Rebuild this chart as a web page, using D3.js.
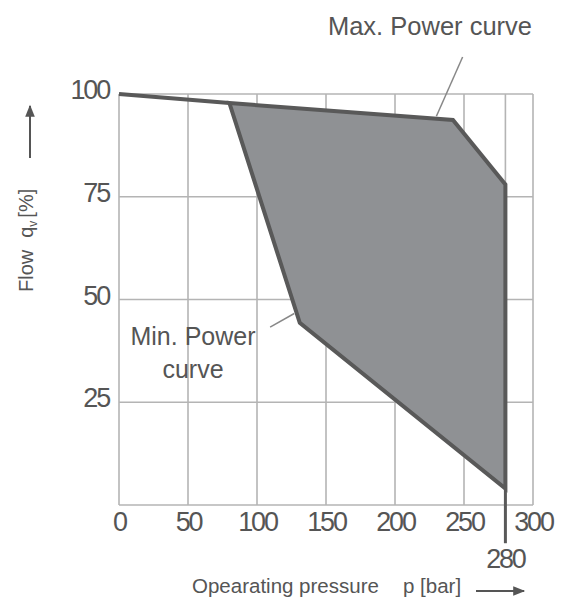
<!DOCTYPE html>
<html>
<head>
<meta charset="utf-8">
<script src="https://cdn.jsdelivr.net/npm/d3@7"></script>
<style>
  body { margin:0; background:#fff; }
  text { font-family: "Liberation Sans", Arial, sans-serif; fill:#555; }
  .tick text { font-size:27px; letter-spacing:-2.2px; }
</style>
</head>
<body>
<svg id="chart" width="562" height="612"></svg>
<script>
// pressure [bar] / flow [%]
const xTicks = [0, 50, 100, 150, 200, 250, 300];
const yTicks = [25, 50, 75, 100];
const xGrid = [0, 50, 100, 150, 200, 250, 280, 300];
const yGrid = [0, 25, 50, 75, 100];

// outline of the operating area
const maxCurve = [[80, 97.8], [242, 93.7], [280, 78]];
const minCurve = [[80, 97.8], [131, 44.3], [280, 4]];
const startLine = [[0, 100], [80, 97.8]];

const maxLeader = [[249, 109], [230, 94.6]];
const minLeader = [[109.5, 43.3], [127, 46.6]];

const svg = d3.select("#chart");
const plot = {left:119, right:533, top:94, bottom:505};

const xScale = d3.scaleLinear().domain([0, 300]).range([plot.left, plot.right]);
const yScale = d3.scaleLinear().domain([0, 100]).range([plot.bottom, plot.top]);

const line = d3.line()
    .x(d => xScale(d[0]))
    .y(d => yScale(d[1]));

// grid
svg.append("g").selectAll("line").data(xGrid).enter().append("line")
    .attr("x1", d => xScale(d)).attr("x2", d => xScale(d))
    .attr("y1", yScale(0)).attr("y2", yScale(100))
    .attr("stroke", "#b4b4b4").attr("stroke-width", 1.6);
svg.append("g").selectAll("line").data(yGrid).enter().append("line")
    .attr("y1", d => yScale(d)).attr("y2", d => yScale(d))
    .attr("x1", xScale(0)).attr("x2", xScale(300))
    .attr("stroke", "#b4b4b4").attr("stroke-width", 1.6);

// filled area between min and max curve
const area = maxCurve.concat(minCurve.slice(1).reverse());
svg.append("path")
    .attr("d", line(area) + "Z")
    .attr("fill", "#8f9194")
    .attr("stroke", "#595959")
    .attr("stroke-width", 4)
    .attr("stroke-linejoin", "miter");

svg.append("path")
    .attr("d", line(startLine))
    .attr("fill", "none")
    .attr("stroke", "#595959")
    .attr("stroke-width", 4);

// 280 bar limit, running below the axis
svg.append("line")
    .attr("x1", xScale(280)).attr("x2", xScale(280))
    .attr("y1", yScale(4)).attr("y2", yScale(-9.3))
    .attr("stroke", "#595959").attr("stroke-width", 3);

// axes (labels only)
const xAxis = d3.axisBottom(xScale).tickValues(xTicks).tickSize(0).tickPadding(7);
const gx = svg.append("g").attr("transform", "translate(0," + plot.bottom + ")").call(xAxis);
const yAxis = d3.axisLeft(yScale).tickValues(yTicks).tickSize(0).tickPadding(10);
const gy = svg.append("g").attr("transform", "translate(" + plot.left + ",0)").call(yAxis);
[gx, gy].forEach(g => {
    g.select(".domain").remove();
    g.selectAll("text").attr("fill", "#555").attr("font-family", null).attr("font-size", null);
});
gx.selectAll("text").attr("dy", "0.71em");
gy.selectAll("text").attr("dy", "0.17em");

svg.append("text")
    .attr("x", xScale(280)).attr("y", 568)
    .attr("text-anchor", "middle")
    .style("font-size", "27px").style("letter-spacing", "-2.2px")
    .text("280");

// curve labels
svg.append("text")
    .attr("x", 532).attr("y", 35)
    .attr("text-anchor", "end")
    .style("font-size", "25.5px")
    .text("Max. Power curve");
svg.append("text")
    .attr("x", 193).attr("y", 345)
    .attr("text-anchor", "middle")
    .style("font-size", "25px")
    .text("Min. Power");
svg.append("text")
    .attr("x", 193).attr("y", 378)
    .attr("text-anchor", "middle")
    .style("font-size", "25px")
    .text("curve");

[maxLeader, minLeader].forEach(l => {
    svg.append("path")
        .attr("d", line(l))
        .attr("stroke", "#888").attr("stroke-width", 1.5).attr("fill", "none");
});

// axis titles
const arrow = svg.append("defs").append("marker")
    .attr("id", "arr").attr("viewBox", "0 0 10 10")
    .attr("refX", 9).attr("refY", 5)
    .attr("markerWidth", 8).attr("markerHeight", 6)
    .attr("orient", "auto");
arrow.append("path").attr("d", "M0,1L10,5L0,9Z").attr("fill", "#555");

const xt = svg.append("text")
    .attr("x", 192).attr("y", 593)
    .style("font-size", "20.5px");
xt.append("tspan").text("Opearating pressure");
xt.append("tspan").attr("x", 403).text("p [bar]");
svg.append("line")
    .attr("x1", 476).attr("x2", 524).attr("y1", 591).attr("y2", 591)
    .attr("stroke", "#555").attr("stroke-width", 2).attr("marker-end", "url(#arr)");

const yt = svg.append("text")
    .attr("transform", "translate(33,292) rotate(-90)")
    .style("font-size", "20px");
yt.append("tspan").text("Flow");
yt.append("tspan").attr("dx", 12).text("q");
yt.append("tspan").attr("dy", 4).style("font-size", "12px").text("v");
yt.append("tspan").attr("dy", -4).attr("dx", 3).text("[%]");
svg.append("line")
    .attr("x1", 30).attr("x2", 30).attr("y1", 158).attr("y2", 106)
    .attr("stroke", "#555").attr("stroke-width", 2).attr("marker-end", "url(#arr)");
</script>
</body>
</html>
